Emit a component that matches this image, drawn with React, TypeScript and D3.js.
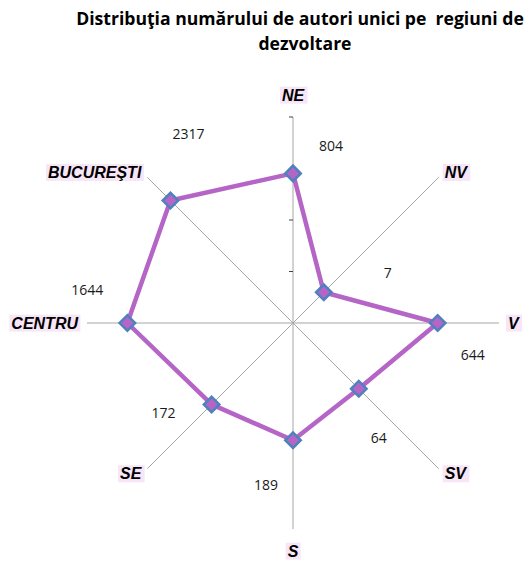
import React, { useEffect, useRef } from "react";
import * as d3 from "d3";

const regions = ["NE", "NV", "V", "SV", "S", "SE", "CENTRU", "BUCUREŞTI"];
const authors = [804, 7, 644, 64, 189, 172, 1644, 2317];
const tickValues = [10, 100, 1000, 10000];
const titleLines = ["Distribuţia numărului de autori unici pe  regiuni de", "dezvoltare"];

// label offsets relative to each point (dx, dy)
const valueOffsets: [number, number][] = [
  [38, -27], [64, -19], [35, 32], [20, 49], [-27, 45], [-48, 9], [-40, -33], [18, -66],
];

export default function App() {
  const ref = useRef<SVGSVGElement>(null);

  useEffect(() => {
    const svg = d3.select(ref.current);
    svg.selectAll("*").remove();

    const cx = 293, cy = 323;
    const r = d3.scaleLog().domain([1, 10000]).range([0, 206]);
    const angle = d3.scalePoint<string>().domain(regions).range([0, 2 * Math.PI * 7 / 8]);

    const pos = (name: string, rad: number): [number, number] => {
      const a = angle(name)!;
      return [cx + rad * Math.sin(a), cy - rad * Math.cos(a)];
    };

    // title
    svg.append("g")
      .selectAll("text")
      .data(titleLines)
      .enter().append("text")
        .attr("x", (d, i) => (i === 0 ? 300 : 305))
        .attr("y", (d, i) => 25 + i * 25)
        .attr("text-anchor", "middle")
        .attr("font-family", "'Open Sans', sans-serif")
        .attr("font-weight", "bold")
        .attr("font-size", 17.6)
        .attr("fill", "#000")
        .style("white-space", "pre")
        .text(d => d);

    // axes
    const g = svg.append("g");
    g.selectAll(".axis")
      .data(regions)
      .enter().append("line")
        .attr("x1", cx).attr("y1", cy)
        .attr("x2", d => pos(d, r(10000))[0])
        .attr("y2", d => pos(d, r(10000))[1])
        .attr("stroke", "#a6a6a6")
        .attr("stroke-width", 1);

    // ticks on first axis
    g.selectAll(".tick")
      .data(tickValues)
      .enter().append("line")
        .attr("x1", cx - 4).attr("x2", cx)
        .attr("y1", d => cy - r(d))
        .attr("y2", d => cy - r(d))
        .attr("stroke", "#404040")
        .attr("stroke-width", 1);

    // polygon
    const pts = regions.map((d, i) => pos(d, r(authors[i])));
    g.append("path")
      .attr("d", d3.line().curve(d3.curveLinearClosed)(pts))
      .attr("fill", "none")
      .attr("stroke", "#b565c6")
      .attr("stroke-width", 4.5)
      .attr("stroke-linejoin", "round");

    // markers
    g.selectAll(".marker")
      .data(pts)
      .enter().append("path")
        .attr("d", d3.symbol(d3.symbolSquare, 120)())
        .attr("transform", d => `translate(${d[0]},${d[1]}) rotate(45)`)
        .attr("fill", "#b565c6")
        .attr("stroke", "#4f81bd")
        .attr("stroke-width", 2.5);

    // value labels
    g.selectAll(".val")
      .data(authors)
      .enter().append("text")
        .attr("x", (d, i) => pts[i][0] + valueOffsets[i][0])
        .attr("y", (d, i) => pts[i][1] + valueOffsets[i][1] + 5)
        .attr("text-anchor", "middle")
        .attr("font-family", "'Open Sans', sans-serif")
        .attr("font-size", 14)
        .attr("fill", "#1a1a1a")
        .text(d => d);

    // category labels, placed just beyond the axis ends
    const sgn = (v: number) => (Math.abs(v) < 0.01 ? 0 : v > 0 ? 1 : -1);
    const cats = g.selectAll(".cat")
      .data(regions)
      .enter().append("g")
        .attr("transform", d => {
          const [x, y] = pos(d, r(10000));
          const a = angle(d)!;
          const s = sgn(Math.sin(a)), c = sgn(Math.cos(a));
          let dx = 0, dy = 0;
          if (s === 0) dy = -c * 22;
          else if (c === 0) dx = s * 9;
          else { dx = s * 6; dy = -c * 5; }
          return `translate(${x + dx},${y + dy})`;
        });

    cats.append("rect").attr("class", "bg");
    cats.append("text")
      .attr("text-anchor", d => {
        const s = sgn(Math.sin(angle(d)!));
        return s === 0 ? "middle" : s > 0 ? "start" : "end";
      })
      .attr("dy", "0.35em")
      .attr("font-family", "'Liberation Sans', sans-serif")
      .attr("font-weight", "bold")
      .attr("font-style", "italic")
      .attr("font-size", 16)
      .attr("fill", "#000")
      .text(d => d);

    cats.each(function () {
      const grp = d3.select(this);
      const t = grp.select("text").node() as SVGTextElement;
      const b = t.getBBox();
      grp.select("rect")
        .attr("x", b.x - 2).attr("y", b.y)
        .attr("width", b.width + 4).attr("height", b.height)
        .attr("fill", "#f7e6f7");
    });
  }, []);

  return (
    <svg ref={ref} width={528} height={562}
      style={{ position: "absolute", left: 0, top: 0, background: "#fff" }} />
  );
}
